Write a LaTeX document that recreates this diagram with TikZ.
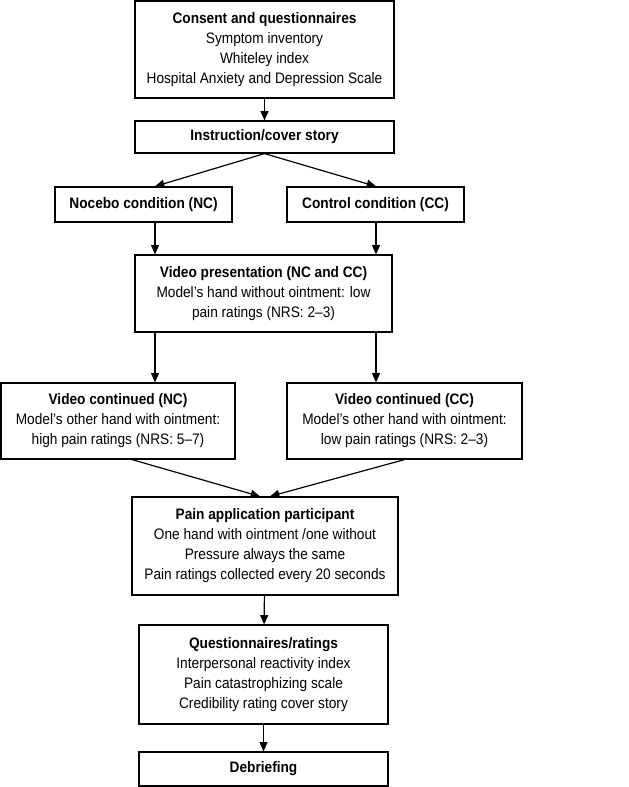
\documentclass[tikz,border=0pt]{standalone}
\usepackage{fontspec}
\setmainfont[FakeStretch=0.9]{Liberation Sans}
\usetikzlibrary{arrows.meta}

\begin{document}
\begin{tikzpicture}[x=0.75pt,y=-0.75pt,
    box/.style={draw,line width=0.9pt,inner sep=0pt,align=center,
                font=\fontsize{11.4}{15}\selectfont},
    arr/.style={line width=0.9pt,-{Triangle[length=7pt,width=6pt]}}]

            %\draw [help lines] (0,0) grid (628,787);
            \useasboundingbox (0,0) rectangle (628,787);

            \path   (264.5,49.5) node (consent) [box,minimum width=194.25pt,minimum height=72.75pt]
                        {\textbf{Consent and questionnaires}\\Symptom inventory\\Whiteley index\\Hospital Anxiety and Depression Scale}
                    (264.5,137) node (instr) [box,minimum width=194.25pt,minimum height=24pt]
                        {\textbf{Instruction/cover story}}
                    (143.5,204.5) node (nocebo) [box,minimum width=132.75pt,minimum height=26.25pt]
                        {\textbf{Nocebo condition (NC)}}
                    (375.5,204.5) node (control) [box,minimum width=132.75pt,minimum height=26.25pt]
                        {\textbf{Control condition (CC)}}
                    (263.5,293.5) node (video) [box,minimum width=192.75pt,minimum height=57.75pt]
                        {\textbf{Video presentation (NC and CC)}\\Model’s hand without ointment: low\\pain ratings (NRS: 2–3)}
                    (118,421) node (vnc) [box,minimum width=175.5pt,minimum height=57pt]
                        {\textbf{Video continued (NC)}\\Model’s other hand with ointment:\\high pain ratings (NRS: 5–7)}
                    (404.5,421) node (vcc) [box,minimum width=176.25pt,minimum height=57pt]
                        {\textbf{Video continued (CC)}\\Model’s other hand with ointment:\\low pain ratings (NRS: 2–3)}
                    (265,546) node (pain) [box,minimum width=199.5pt,minimum height=73.5pt]
                        {\textbf{Pain application participant}\\One hand with ointment /one without\\Pressure always the same\\Pain ratings collected every 20 seconds}
                    (263.5,674.5) node (quest) [box,minimum width=186.75pt,minimum height=74.25pt]
                        {\textbf{Questionnaires/ratings}\\Interpersonal reactivity index\\Pain catastrophizing scale\\Credibility rating cover story}
                    (263.5,769) node (debrief) [box,minimum width=186.75pt,minimum height=25.5pt]
                        {\textbf{Debriefing}};

            % the two columns of vertical arrows
            \coordinate (lx) at (155,0);
            \coordinate (rx) at (376,0);

            \draw[arr] (consent) -- (instr);
            \draw[arr] (instr.south) -- (nocebo.north -| lx);
            \draw[arr] (instr.south) -- (control.north -| rx);
            \draw[arr] (nocebo.south -| lx) -- (video.north -| lx);
            \draw[arr] (control.south -| rx) -- (video.north -| rx);
            \draw[arr] (video.south -| lx) -- (vnc.north -| lx);
            \draw[arr] (video.south -| rx) -- (vcc.north -| rx);
            \draw[arr] ([xshift=10.5pt]vnc.south) -- ([xshift=-3.75pt]pain.north);
            \draw[arr] (vcc.south) -- ([xshift=3.75pt]pain.north);
            \draw[arr] (pain) -- (quest);
            \draw[arr] (quest) -- (debrief);

        \end{tikzpicture}
\end{document}
